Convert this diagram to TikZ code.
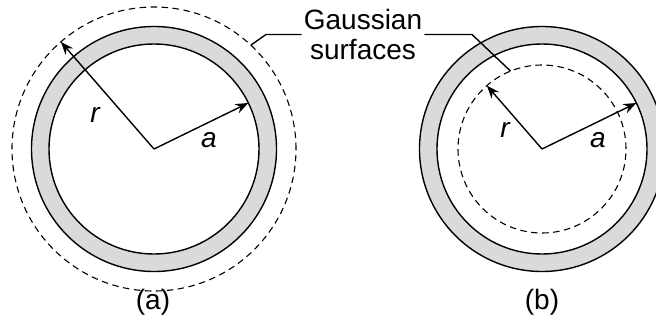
\documentclass[tikz,border=0pt]{standalone}
\usepackage{fontspec}
\setmainfont{Liberation Sans}
\usetikzlibrary{arrows.meta, positioning, calc}
\definecolor{shell}{RGB}{218,218,221}

\begin{document}
\begin{tikzpicture}[x=1pt,y=1pt,
  ring/.style={draw,line width=1.4pt},
  gsurf/.style={draw,line width=1.1pt,dash pattern=on 6.5pt off 4.5pt},
  arr/.style={-{Stealth[length=13pt,width=10pt]},line width=1.4pt},
  lead/.style={line width=1.4pt},
  lbl/.style={font=\fontsize{28}{30}\selectfont},
  sym/.style={font=\fontsize{28}{30}\selectfont\itshape}
]
\useasboundingbox (0,0) rectangle (656,333);
\coordinate (ca) at (154,184);
\coordinate (cb) at (542,184);

% (a) shell inside the gaussian surface
\fill[shell,even odd rule] (ca) circle[radius=122.5] (ca) circle[radius=105];
\draw[ring] (ca) circle[radius=122.5];
\draw[ring,fill=white] (ca) circle[radius=105];
\draw[gsurf] (ca) circle[radius=142];
\coordinate (ra) at ($(ca)+(131:142)$);
\coordinate (aa) at ($(ca)+(26:105)$);
\draw[arr] (ca)--(ra); \draw[arr] (ca)--(aa);
\node[sym] (rlbla) at (95,218) {r};
\node[sym] (albla) at (209,193) {a};
\node[lbl] (capa) at (153,31) {(a)};

% (b) gaussian surface inside the shell
\fill[shell,even odd rule] (cb) circle[radius=122.5] (cb) circle[radius=105];
\draw[ring] (cb) circle[radius=122.5];
\draw[ring,fill=white] (cb) circle[radius=105];
\draw[gsurf] (cb) circle[radius=84];
\coordinate (rb) at ($(cb)+(131:84)$);
\coordinate (ab) at ($(cb)+(26:105)$);
\draw[arr] (cb)--(rb); \draw[arr] (cb)--(ab);
\node[sym] (rlblb) at (505,203) {r};
\node[sym] (alblb) at (598,193) {a};
\node[lbl] (capb) at (542,31) {(b)};

% label with leaders
\node[lbl,align=center,inner sep=2pt] (gauss) at (363,298.5) {Gaussian\\surfaces};
\coordinate (kl) at (266,298.5);
\coordinate (kr) at (472,298.5);
\draw[lead] (gauss.west)--(kl)--($(ca)+(47:142)$);
\draw[lead] (gauss.east)--(kr)--($(cb)+(112:84)$);
\end{tikzpicture}
\end{document}
